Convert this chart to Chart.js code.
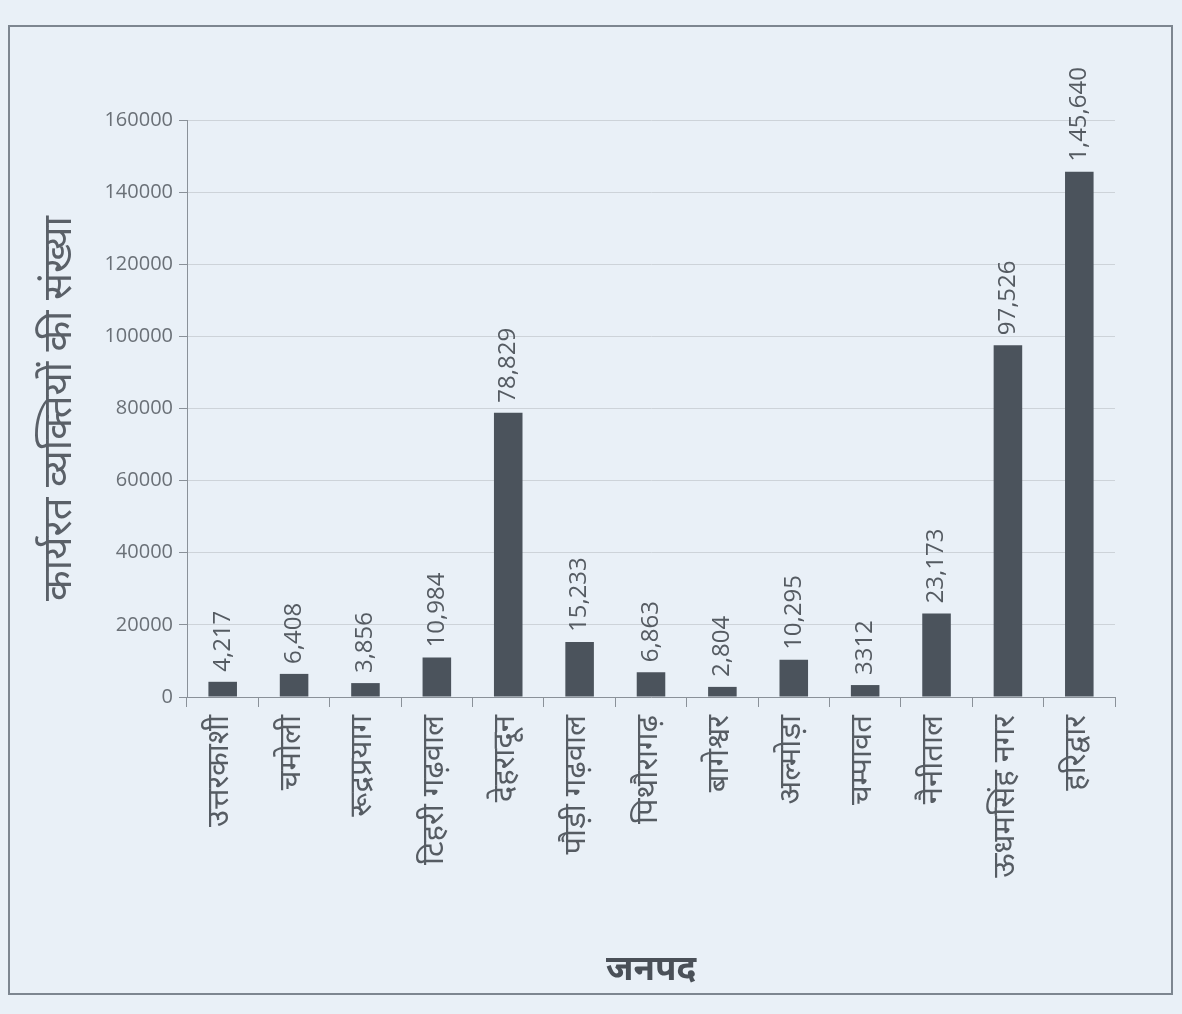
<!DOCTYPE html>
<html><head><meta charset="utf-8">
<script src="https://cdn.jsdelivr.net/npm/chart.js@4.4.1/dist/chart.umd.min.js"></script>
<style>html,body{margin:0;padding:0;background:#e9f0f7;overflow:hidden}</style>
</head><body>
<canvas id="c" width="1182" height="1014"></canvas>
<script>
const categories = ["उत्तरकाशी","चमोली","रूद्रप्रयाग","टिहरी गढ़वाल","देहरादून","पौड़ी गढ़वाल","पिथौरागढ़","बागेश्वर","अल्मोड़ा","चम्पावत","नैनीताल","ऊधमसिंह नगर","हरिद्वार"];
const workers = [4217,6408,3856,10984,78829,15233,6863,2804,10295,3312,23173,97526,145640];
const valueLabels = ["4,217","6,408","3,856","10,984","78,829","15,233","6,863","2,804","10,295","3312","23,173","97,526","1,45,640"];
const yTitle = "कार्यरत व्यक्तियों की संख्या";
const xTitle = "जनपद";

const DEV = "'Noto Sans Devanagari','Lohit Devanagari','Noto Sans','Open Sans',sans-serif";
const NUM = "'Open Sans','Noto Sans',sans-serif";

const frame = {
  id:'frame',
  beforeDraw(chart){
    const {ctx,width,height} = chart;
    ctx.save();
    ctx.fillStyle = '#e9f0f7';
    ctx.fillRect(0,0,width,height);
    ctx.strokeStyle = '#7d8690';
    ctx.lineWidth = 2;
    ctx.strokeRect(9, 26, width-19, height-46);
    ctx.restore();
  }
};
const valueLabelPlugin = {
  id:'valueLabels',
  afterDatasetsDraw(chart){
    const {ctx} = chart;
    const meta = chart.getDatasetMeta(0);
    ctx.save();
    ctx.font = "24px " + NUM;
    ctx.fillStyle = '#555b62';
    ctx.textAlign = 'left';
    ctx.textBaseline = 'middle';
    meta.data.forEach((bar,i)=>{
      ctx.save();
      ctx.translate(bar.x, bar.y - 10);
      ctx.rotate(-Math.PI/2);
      ctx.fillText(valueLabels[i],0,0);
      ctx.restore();
    });
    ctx.restore();
  }
};

new Chart(document.getElementById('c'),{
  type:'bar',
  data:{labels:categories,datasets:[{data:workers,backgroundColor:'#4b535c',barPercentage:0.8,categoryPercentage:0.5}]},
  options:{
    responsive:false,animation:false,
    layout:{padding:{top:120,right:67,bottom:18,left:0}},
    plugins:{legend:{display:false},tooltip:{enabled:false}},
    scales:{
      x:{
        afterFit(s){s.height = 299;},
        grid:{display:true,drawOnChartArea:false,tickLength:10,color:'#8a9199',offset:true},
        border:{color:'#8a9199',width:1},
        ticks:{autoSkip:false,maxRotation:90,minRotation:90,padding:8,color:'#565c63',font:{family:DEV,size:31}},
        title:{display:true,text:xTitle,color:'#4a5058',font:{family:DEV,size:35,weight:'bold'},padding:{top:0,bottom:2}}
      },
      y:{
        min:0,max:160000,
        afterFit(s){s.width = 187;},
        grid:{color:'#cdd3d9',tickLength:8,tickColor:'#8a9199'},
        border:{color:'#8a9199',width:1},
        ticks:{stepSize:20000,padding:6,color:'#6a7077',font:{family:NUM,size:20},callback:(v)=>String(v)},
        title:{display:true,text:yTitle,color:'#5a6068',font:{family:DEV,size:40},padding:{top:40,bottom:0}}
      }
    }
  },
  plugins:[frame,valueLabelPlugin]
});
</script>
</body></html>
